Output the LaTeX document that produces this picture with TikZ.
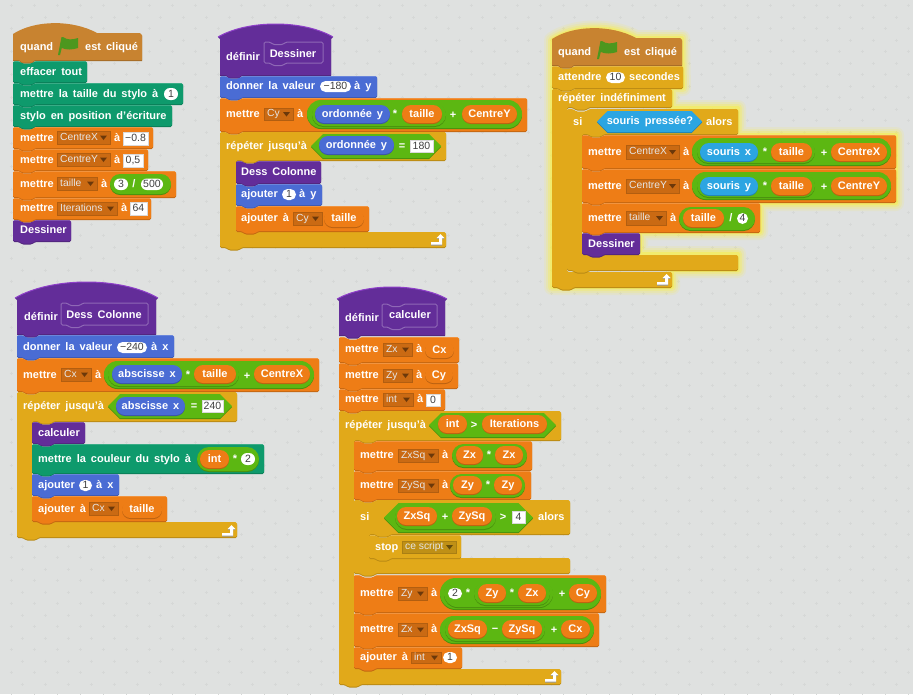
\documentclass[tikz,border=0pt]{standalone}
\usepackage{fontspec}
\setmainfont{Liberation Sans}
\definecolor{bgc}{HTML}{DFE1E0}
\definecolor{sorange}{HTML}{EE7D16}
\definecolor{sgold}{HTML}{E1A91A}
\definecolor{sblue}{HTML}{4A6CD4}
\definecolor{sgreen}{HTML}{5CB712}
\definecolor{spurple}{HTML}{632D99}
\definecolor{steal}{HTML}{0E9A6C}
\definecolor{shat}{HTML}{C88330}
\definecolor{ssense}{HTML}{2CA5E2}
\definecolor{srim}{HTML}{8E3FC9}
\definecolor{sflagc}{HTML}{4C971E}
\newcount\nodeno
\newcommand\labfont{\fontsize{11}{12}\selectfont\bfseries\spaceskip=5pt\relax}
\tikzset{
 lab/.style={text=white,font=\labfont,inner sep=0pt,text height=8pt,text depth=2pt},
 ink/.style={text=black!75,font=\fontsize{10.5}{12}\selectfont,inner sep=0pt,text height=8pt,text depth=2pt},
 dd/.style={text=white!90!black,font=\fontsize{10.3}{10}\selectfont,inner sep=0pt,text height=7pt,text depth=2pt,anchor=west},
 blockr/.style={rounded corners=1.5pt}
}
\newcommand\slab[3]{\global\advance\nodeno 1 \node[lab,anchor=west] (t\the\nodeno) at (#1,#2) {#3};}
\newcommand\scen[3]{\global\advance\nodeno 1 \node[lab,anchor=center] (t\the\nodeno) at ({#1},{#2}) {#3};}
% block: color x1 y1 x2 y2
\newcommand\sblkpath[4]{(#1,#2+2) -- (#1,#2) -- (#1+6,#2) -- (#1+9,#2+2.5) -- (#1+19,#2+2.5) -- (#1+22,#2) -- (#3,#2) -- (#3,#4) -- (#1+22,#4) -- (#1+19,#4+2.5) -- (#1+9,#4+2.5) -- (#1+6,#4) -- (#1,#4) -- cycle}
\newcommand\sblk[5]{%
 \fill[#1!82!black,blockr,yshift=-1pt] \sblkpath{#2}{#3}{#4}{#5};
 \fill[#1,blockr] \sblkpath{#2}{#3}{#4}{#5};
 \draw[#1!70!white,line width=.5pt,opacity=.6] (#2+1,#3+.4) -- (#2+6,#3+.4) (#2+22,#3+.4) -- (#4-1,#3+.4);
}
% C block: color x1 y1 x2 y2 arm y3 y4
\newcommand\scpath[7]{(#1,#2+2) -- (#1,#2) -- (#1+6,#2) -- (#1+9,#2+2.5) -- (#1+19,#2+2.5) -- (#1+22,#2) -- (#3,#2) -- (#3,#4) -- (#5+22,#4) -- (#5+19,#4+2.5) -- (#5+9,#4+2.5) -- (#5+6,#4) -- (#5,#4) -- (#5,#6) -- (#3,#6) -- (#3,#7) -- (#1+22,#7) -- (#1+19,#7+2.5) -- (#1+9,#7+2.5) -- (#1+6,#7) -- (#1,#7) -- cycle}
\newcommand\scblk[8]{%
 \fill[#1!82!black,blockr,yshift=-1pt] \scpath{#2}{#3}{#4}{#5}{#6}{#7}{#8};
 \fill[#1,blockr] \scpath{#2}{#3}{#4}{#5}{#6}{#7}{#8};
}
% pill: color x1 y1 x2 y2
\newcommand\spil[5]{%
 \pgfmathsetmacro\hrr{(#5-#3)/2-0.02}%
 \fill[#1!78!black,rounded corners=\hrr pt,yshift=-1pt] (#2,#3) rectangle (#4,#5);
 \fill[#1,rounded corners=\hrr pt] (#2,#3) rectangle (#4,#5);
}
\newcommand\spilt[6]{\spil{#1}{#2}{#3}{#4}{#5}\scen{(#2+#4)/2}{(#3+#5)/2}{#6}}
% hexagon
\newcommand\shex[5]{%
 \pgfmathsetmacro\hhh{(#5-#3)/2}%
 \pgfmathsetmacro\hmm{(#5+#3)/2}%
 \fill[#1!78!black,yshift=-1pt] (#2,\hmm) -- (#2+\hhh,#3) -- (#4-\hhh,#3) -- (#4,\hmm) -- (#4-\hhh,#5) -- (#2+\hhh,#5) -- cycle;
 \fill[#1] (#2,\hmm) -- (#2+\hhh,#3) -- (#4-\hhh,#3) -- (#4,\hmm) -- (#4-\hhh,#5) -- (#2+\hhh,#5) -- cycle;
}
% white field: x1 y1 x2 y2 text
\newcommand\sfld[5]{%
 \fill[white] (#1,#2) rectangle (#3,#4);
 \draw[black!15,line width=.3pt] (#1,#2) rectangle (#3,#4);
 \global\advance\nodeno 1 \node[ink,anchor=center] (t\the\nodeno) at ({(#1+#3)/2},{(#2+#4)/2}) {#5};
}
% white number pill
\newcommand\snum[5]{%
 \pgfmathsetmacro\hrr{(#4-#2)/2-0.02}%
 \fill[white,rounded corners=\hrr pt] (#1,#2) rectangle (#3,#4);
 \global\advance\nodeno 1 \node[ink,anchor=center] (t\the\nodeno) at ({(#1+#3)/2},{(#2+#4)/2}) {#5};
}
% dropdown: color x1 y1 x2 y2 text
\newcommand\sdrop[6]{%
 \fill[#1!85!black,draw=#1!75!black,line width=.3pt] (#2,#3) rectangle (#4,#5);
 \fill[#1!45!black] (#4-10,{(#3+#5)/2-2}) -- (#4-3,{(#3+#5)/2-2}) -- (#4-6.5,{(#3+#5)/2+2.5}) -- cycle;
 \global\advance\nodeno 1 \node[dd] (t\the\nodeno) at (#2+3,{(#3+#5)/2}) {#6};
}
% event hat: color x1 x2 ytop yedge ybot
\newcommand\shatE[6]{%
 \pgfmathsetmacro\hcy{#5-(#5-#4)/0.75}%
 \fill[#1!82!black,yshift=-1pt] (#2,#5+1) .. controls (#2+22,\hcy) and (#2+60,\hcy) .. (#2+84,#5) -- (#3-2,#5) -- (#3,#5+2) -- (#3,#6) -- (#2+22,#6) -- (#2+19,#6+2.5) -- (#2+9,#6+2.5) -- (#2+6,#6) -- (#2,#6) -- cycle;
 \fill[#1] (#2,#5+1) .. controls (#2+22,\hcy) and (#2+60,\hcy) .. (#2+84,#5) -- (#3-2,#5) -- (#3,#5+2) -- (#3,#6) -- (#2+22,#6) -- (#2+19,#6+2.5) -- (#2+9,#6+2.5) -- (#2+6,#6) -- (#2,#6) -- cycle;
}
% procedure hat: x1 x2 ytop yedge ybot
\newcommand\shatP[5]{%
 \pgfmathsetmacro\hcy{#4-(#4-#3)/0.75}%
 \fill[spurple!82!black,yshift=-1pt] (#1,#4) -- (#2,#4) -- (#2,#5) -- (#1+22,#5) -- (#1+19,#5+2.5) -- (#1+9,#5+2.5) -- (#1+6,#5) -- (#1,#5) -- cycle;
 \fill[spurple] (#1-2,#4) .. controls (#1+.25*#2-.25*#1,\hcy) and (#1+.75*#2-.75*#1,\hcy) .. (#2+2,#4) -- (#2,#4+2) -- (#2,#5) -- (#1+22,#5) -- (#1+19,#5+2.5) -- (#1+9,#5+2.5) -- (#1+6,#5) -- (#1,#5) -- (#1,#4+2) -- cycle;
 \draw[srim,line width=1pt] (#1-2,#4) .. controls (#1+.25*#2-.25*#1,\hcy) and (#1+.75*#2-.75*#1,\hcy) .. (#2+2,#4);
}
% prototype outline
\newcommand\sproto[4]{\draw[white!28!spurple,line width=1pt,blockr] \sblkpath{#1}{#2}{#3}{#4};}
% flag: x y(top-left)
\newcommand\sflag[2]{%
 \fill[sflagc] (#1,#2+18) -- (#1+3.5,#2) -- (#1+5,#2) .. controls (#1+9,#2+3) and (#1+14,#2+3) .. (#1+20,#2+1) -- (#1+20,#2+11) .. controls (#1+14,#2+13) and (#1+8,#2+13) .. (#1+3.8,#2+11) -- (#1+2,#2+18) -- cycle;
}
% loop arrow
\newcommand\sarrow[2]{%
 \fill[black!40,yshift=-1pt] (#1,#2+8) -- (#1+8,#2+8) -- (#1+8,#2+4) -- (#1+5.5,#2+4) -- (#1+9.5,#2) -- (#1+13.5,#2+4) -- (#1+11,#2+4) -- (#1+11,#2+10.5) -- (#1,#2+10.5) -- cycle;
 \fill[white] (#1,#2+8) -- (#1+8,#2+8) -- (#1+8,#2+4) -- (#1+5.5,#2+4) -- (#1+9.5,#2) -- (#1+13.5,#2+4) -- (#1+11,#2+4) -- (#1+11,#2+10.5) -- (#1,#2+10.5) -- cycle;
}
\begin{document}
\begin{tikzpicture}[x=1pt,y=-1pt]
\useasboundingbox (0,0) rectangle (913,694);
\fill[bgc] (0,0) rectangle (913,694);
\foreach \i in {0,...,39}{\foreach \j in {0,...,30}{
 \draw[bgc!96!black,line width=.5pt] (22+\i*23,17+\j*23-1.5) -- +(0,3) (22+\i*23-1.5,17+\j*23) -- +(3,0);
 \draw[bgc!96!black,line width=.5pt] (11+\i*23,5+\j*23-1.5) -- +(0,3) (11+\i*23-1.5,5+\j*23) -- +(3,0);
}}
% ---------- stack 1
\shatE{shat}{13}{142}{23}{33}{60}
\sflag{58}{37}
\slab{20}{47}{quand}\slab{85}{47}{est cliqué}
\sblk{steal}{13}{61}{87}{82}\slab{20}{72}{effacer tout}
\sblk{steal}{13}{83}{183}{104}\slab{20}{94}{mettre la taille du stylo à}\snum{164}{88}{178}{100}{1}
\sblk{steal}{13}{105}{172}{126}\slab{20}{116}{stylo en position d'écriture}
\sblk{sorange}{13}{127}{153}{148}\slab{20}{138}{mettre}\sdrop{sorange}{57}{131}{110}{144}{CentreX}\slab{114}{138}{à}\sfld{123}{132}{148}{145}{−0.8}
\sblk{sorange}{13}{149}{148}{170}\slab{20}{160}{mettre}\sdrop{sorange}{57}{153}{110}{166}{CentreY}\slab{114}{160}{à}\sfld{123}{154}{143}{167}{0,5}
\sblk{sorange}{13}{171}{176}{197}\slab{20}{184}{mettre}\sdrop{sorange}{57}{177}{97}{190}{taille}\slab{101}{184}{à}\spil{sgreen}{110}{174}{171}{194}\snum{114}{178.5}{128}{190}{3}\scen{134}{184}{/}\snum{141}{178.5}{163}{190}{500}
\sblk{sorange}{13}{198}{151}{219}\slab{20}{208}{mettre}\sdrop{sorange}{57}{202}{117}{215}{Iterations}\slab{121}{208}{à}\sfld{130}{202}{147}{215}{64}
\sblk{spurple}{13}{220}{71}{241}\slab{20}{230}{Dessiner}
% ---------- stack 2
\shatP{220}{331}{24}{37}{75}
\scen{243}{57}{définir}\sproto{264}{42}{323}{63}\scen{293}{54}{Dessiner}
\sblk{sblue}{220}{76}{377}{97}\slab{226}{86}{donner la valeur}\snum{320}{81}{351}{92}{−180}\slab{354}{86}{à y}
\sblk{sorange}{220}{98}{527}{131}\slab{226}{114}{mettre}\sdrop{sorange}{264}{108}{293}{120}{Cy}\slab{297}{114}{à}
\spil{sgreen}{307}{100}{522}{128}\spil{sgreen}{312}{103}{446}{126}\spilt{sblue}{315}{105}{390}{123}{ordonnée y}\scen{395}{114}{*}\spilt{sorange}{402}{105}{442}{123}{taille}\scen{453}{115}{+}\spilt{sorange}{462}{105}{517}{123}{CentreY}
\scblk{sgold}{220}{132}{446}{160}{236}{232}{247}\slab{226}{146}{répéter jusqu'à}
\shex{sgreen}{311}{134}{441}{158}\spilt{sblue}{319}{136}{394}{154}{ordonnée y}\scen{402}{146}{=}\sfld{410}{140}{433}{152}{180}
\sblk{spurple}{236}{161}{321}{183}\slab{241}{172}{Dess Colonne}
\sblk{sblue}{236}{184}{322}{205}\slab{241}{194}{ajouter}\snum{282}{189}{296}{200}{1}\slab{299}{194}{à y}
\sblk{sorange}{236}{206}{369}{231}\slab{241}{218}{ajouter à}\sdrop{sorange}{293}{212}{322}{225}{Cy}\spilt{sorange}{324}{210}{364}{227}{taille}
\sarrow{431}{234}
% ---------- stack 3 (glow)
\foreach \w/\o in {16/.10,12/.14,8/.22,4/.35}{
 \draw[yellow!85!white,line width=\w pt,opacity=\o,line join=round] (552,40) .. controls (574,25) and (612,25) .. (636,38) -- (682,38) -- (683,88) -- (672,88) -- (672,108) -- (738,108) -- (738,135) -- (896,135) -- (896,203) -- (760,203) -- (760,232) -- (640,232) -- (640,254) -- (738,254) -- (738,270) -- (672,270) -- (672,287) -- (552,287) -- cycle;
}
\shatE{shat}{552}{682}{28}{38}{65}
\sflag{597}{41}
\slab{558}{52}{quand}\slab{624}{52}{est cliqué}
\sblk{sgold}{552}{66}{683}{88}\slab{558}{77}{attendre}\snum{606}{72}{625}{83}{10}\slab{629}{77}{secondes}
\scblk{sgold}{552}{89}{672}{107}{567}{272}{287}\slab{558}{98}{répéter indéfiniment}
\scblk{sgold}{567}{109}{738}{134}{582}{255}{270}\slab{573}{122}{si}
\shex{ssense}{597}{111}{702}{132}\scen{650}{121}{souris pressée?}\slab{706}{122}{alors}
\sblk{sorange}{582}{135}{896}{168}\slab{588}{152}{mettre}\sdrop{sorange}{626}{145}{679}{159}{CentreX}\slab{683}{152}{à}
\spil{sgreen}{692}{138}{891}{165}\spil{sgreen}{697}{140}{815}{163}\spilt{ssense}{700}{143}{758}{161}{souris x}\scen{765}{152}{*}\spilt{sorange}{771}{143}{812}{161}{taille}\scen{824}{153}{+}\spilt{sorange}{831}{143}{887}{161}{CentreX}
\sblk{sorange}{582}{169}{896}{202}\slab{588}{186}{mettre}\sdrop{sorange}{626}{179}{679}{193}{CentreY}\slab{683}{186}{à}
\spil{sgreen}{692}{172}{891}{199}\spil{sgreen}{697}{174}{815}{197}\spilt{ssense}{700}{177}{758}{195}{souris y}\scen{765}{186}{*}\spilt{sorange}{771}{177}{812}{195}{taille}\scen{824}{187}{+}\spilt{sorange}{831}{177}{887}{195}{CentreY}
\sblk{sorange}{582}{203}{760}{232}\slab{588}{218}{mettre}\sdrop{sorange}{626}{211}{666}{225}{taille}\slab{670}{218}{à}
\spil{sgreen}{679}{207}{755}{230}\spilt{sorange}{683}{209}{724}{227}{taille}\scen{731}{218}{/}\snum{737}{213}{748}{224}{4}
\sblk{spurple}{582}{233}{640}{254}\slab{588}{244}{Dessiner}
\sarrow{657}{274}
% ---------- stack 4
\shatP{17}{156}{282}{298}{334}
\scen{41}{317}{définir}\sproto{61}{303}{148}{325}\scen{104}{315}{Dess Colonne}
\sblk{sblue}{17}{335}{174}{357}\slab{23}{347}{donner la valeur}\snum{117}{342}{147}{353}{−240}\slab{151}{347}{à x}
\sblk{sorange}{17}{358}{319}{391}\slab{23}{375}{mettre}\sdrop{sorange}{61}{368}{91}{381}{Cx}\slab{95}{375}{à}
\spil{sgreen}{104}{361}{314}{388}\spil{sgreen}{108}{363}{239}{386}\spilt{sblue}{112}{365}{182}{383}{abscisse x}\scen{188}{375}{*}\spilt{sorange}{194}{365}{236}{383}{taille}\scen{247}{376}{+}\spilt{sorange}{254}{365}{310}{383}{CentreX}
\scblk{sgold}{17}{392}{237}{421}{32}{522}{537}\slab{23}{406}{répéter jusqu'à}
\shex{sgreen}{108}{394}{232}{418}\spilt{sblue}{116}{397}{185}{415}{abscisse x}\scen{194}{406}{=}\sfld{202}{400}{223}{412}{240}
\sblk{spurple}{32}{422}{85}{443}\slab{38}{433}{calculer}
\sblk{steal}{32}{444}{264}{473}\slab{38}{459}{mettre la couleur du stylo à}\spil{sgreen}{197}{447}{259}{471}\spilt{sorange}{200}{450}{229}{468}{int}\scen{235}{459}{*}\snum{241}{453}{255}{465}{2}
\sblk{sblue}{32}{474}{119}{495}\slab{38}{485}{ajouter}\snum{79}{480}{92}{491}{1}\slab{96}{485}{à x}
\sblk{sorange}{32}{496}{167}{521}\slab{38}{509}{ajouter à}\sdrop{sorange}{89}{502}{118}{515}{Cx}\spilt{sorange}{122}{501}{162}{518}{taille}
\sarrow{222}{525}
% ---------- stack 5
\shatP{339}{445}{287}{299}{335}
\scen{362}{318}{définir}\sproto{382}{304}{437}{327}\scen{410}{315}{calculer}
\sblk{sorange}{339}{337}{459}{362}\slab{345}{349}{mettre}\sdrop{sorange}{383}{343}{412}{356}{Zx}\slab{416}{349}{à}\spilt{sorange}{425}{342}{454}{358}{Cx}
\sblk{sorange}{339}{363}{458}{388}\slab{345}{375}{mettre}\sdrop{sorange}{383}{369}{412}{382}{Zy}\slab{416}{375}{à}\spilt{sorange}{425}{367}{453}{383}{Cy}
\sblk{sorange}{339}{389}{445}{410}\slab{345}{399}{mettre}\sdrop{sorange}{383}{393}{413}{406}{int}\slab{417}{399}{à}\sfld{426}{394}{440}{406}{0}
\scblk{sgold}{339}{411}{561}{440}{354}{669}{684}\slab{345}{425}{répéter jusqu'à}
\shex{sgreen}{429}{413}{556}{437}\spilt{sorange}{438}{415}{467}{433}{int}\scen{474}{425}{>}\spilt{sorange}{482}{415}{547}{433}{Iterations}
\sblk{sorange}{354}{441}{532}{470}\slab{360}{455}{mettre}\sdrop{sorange}{398}{449}{438}{462}{ZxSq}\slab{442}{455}{à}
\spil{sgreen}{452}{444}{527}{467}\spilt{sorange}{456}{446}{483}{464}{Zx}\scen{489}{455}{*}\spilt{sorange}{495}{446}{523}{464}{Zx}
\sblk{sorange}{354}{471}{531}{499}\slab{360}{485}{mettre}\sdrop{sorange}{398}{479}{438}{492}{ZySq}\slab{442}{485}{à}
\spil{sgreen}{450}{474}{525}{497}\spilt{sorange}{453}{476}{482}{494}{Zy}\scen{488}{485}{*}\spilt{sorange}{494}{476}{522}{494}{Zy}
\scblk{sgold}{354}{500}{570}{534}{369}{558}{573}\slab{360}{517}{si}
\shex{sgreen}{384}{503}{533}{532}\spil{sgreen}{395}{505}{496}{529}\spilt{sorange}{397}{507}{437}{525}{ZxSq}\scen{445}{517}{+}\spilt{sorange}{452}{507}{492}{525}{ZySq}\scen{503}{517}{>}\sfld{512}{511}{525}{523}{4}\slab{538}{517}{alors}
\sblk{sgold}{369}{535}{461}{558}\slab{375}{547}{stop}\sdrop{sgold}{402}{541}{456}{553}{ce script}
\sblk{sorange}{354}{575}{606}{612}\slab{360}{593}{mettre}\sdrop{sorange}{398}{587}{427}{600}{Zy}\slab{431}{593}{à}
\spil{sgreen}{440}{578}{601}{609}\spil{sgreen}{444}{580}{553}{607}\spil{sgreen}{474}{582}{550}{605}\snum{448}{588}{462}{599}{2}\scen{468}{593}{*}\spilt{sorange}{478}{584}{506}{602}{Zy}\scen{512}{593}{*}\spilt{sorange}{518}{584}{546}{602}{Zx}\scen{562}{594}{+}\spilt{sorange}{569}{584}{597}{602}{Cy}
\sblk{sorange}{354}{613}{599}{646}\slab{360}{629}{mettre}\sdrop{sorange}{398}{623}{427}{636}{Zx}\slab{431}{629}{à}
\spil{sgreen}{440}{616}{594}{643}\spil{sgreen}{445}{618}{545}{641}\spilt{sorange}{448}{620}{487}{638}{ZxSq}\scen{495}{629}{−}\spilt{sorange}{502}{620}{542}{638}{ZySq}\scen{554}{630}{+}\spilt{sorange}{561}{620}{590}{638}{Cx}
\sblk{sorange}{354}{647}{462}{668}\slab{360}{657}{ajouter à}\sdrop{sorange}{411}{652}{441}{663}{int}\snum{443}{652}{457}{663}{1}
\sarrow{545}{671}
\end{tikzpicture}
\end{document}
